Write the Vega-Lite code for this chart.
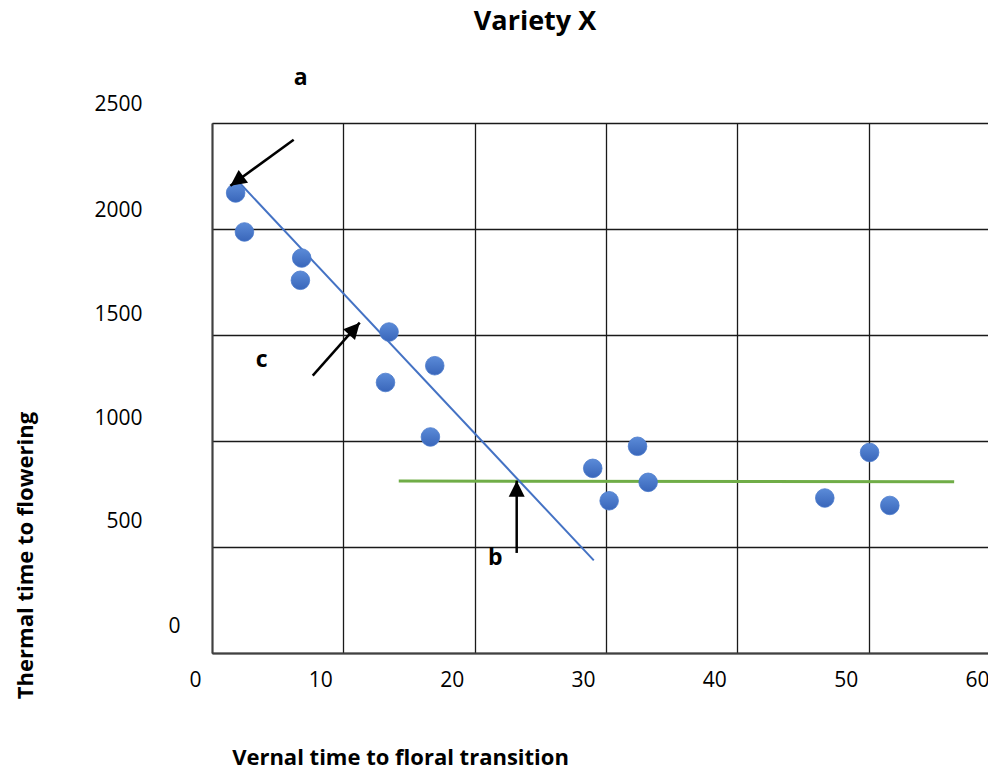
{
  "$schema": "https://vega.github.io/schema/vega-lite/v6.json",
  "autosize": {"type": "none"},
  "width": 788,
  "height": 530,
  "padding": {"left": 212, "top": 123, "right": 0, "bottom": 116},
  "background": "white",
  "title": {
    "text": "Variety X",
    "font": "Open Sans",
    "fontSize": 27,
    "fontWeight": "bold",
    "color": "#000",
    "anchor": "middle",
    "dx": -71,
    "dy": -27,
    "frame": "group"
  },
  "config": {
    "view": {"stroke": null},
    "font": "Open Sans"
  },
  "datasets": {
    "obs": [
      {"vernal": 1.8, "thermal": 2170},
      {"vernal": 2.47, "thermal": 1986},
      {"vernal": 6.83, "thermal": 1863},
      {"vernal": 6.73, "thermal": 1758},
      {"vernal": 13.48, "thermal": 1514},
      {"vernal": 16.96, "thermal": 1355},
      {"vernal": 13.21, "thermal": 1276},
      {"vernal": 16.63, "thermal": 1019},
      {"vernal": 28.99, "thermal": 871},
      {"vernal": 32.4, "thermal": 975},
      {"vernal": 33.21, "thermal": 805},
      {"vernal": 30.24, "thermal": 718},
      {"vernal": 50.07, "thermal": 946},
      {"vernal": 46.66, "thermal": 731},
      {"vernal": 51.61, "thermal": 696}
    ],
    "fit": [
      {"vernal": 2.11, "thermal": 2217},
      {"vernal": 29.07, "thermal": 437}
    ],
    "plateau": [
      {"vernal": 14.22, "thermal": 811},
      {"vernal": 56.51, "thermal": 808}
    ],
    "arrows": [
      {"label": "a", "x": 6.22, "y": 2421, "x2": 1.4, "y2": 2204},
      {"label": "b", "x": 23.2, "y": 472, "x2": 23.2, "y2": 813},
      {"label": "c", "x": 7.67, "y": 1308, "x2": 11.25, "y2": 1558}
    ],
    "labels": [
      {"label": "a", "x": 6.76, "y": 2714},
      {"label": "b", "x": 21.57, "y": 450},
      {"label": "c", "x": 3.79, "y": 1383}
    ]
  },
  "encoding": {
    "x": {
      "type": "quantitative",
      "scale": {"domain": [0, 60], "nice": false, "zero": false},
      "axis": {
        "values": [0, 10, 20, 30, 40, 50, 60],
        "grid": true,
        "gridColor": "#1a1a1a",
        "gridWidth": 1.3,
        "domainColor": "#404040",
        "domainWidth": 2,
        "ticks": false,
        "tickSize": 0,
        "labelFont": "Open Sans",
        "labelFontSize": 21,
        "labelColor": "#000",
        "labelAlign": "right",
        "labelOffset": -11,
        "labelBaseline": "middle",
        "labelPadding": 27,
        "labelFlush": false,
        "labelOverlap": false,
        "labelBound": false,
        "format": "d",
        "title": "Vernal time to floral transition",
        "titleFont": "Open Sans",
        "titleFontSize": 22,
        "titleFontWeight": "bold",
        "titleColor": "#000",
        "titleX": 188,
        "titleY": 104,
        "titleAlign": "center",
        "titleBaseline": "middle"
      }
    },
    "y": {
      "type": "quantitative",
      "scale": {"domain": [0, 2500], "nice": false},
      "axis": {
        "values": [0, 500, 1000, 1500, 2000, 2500],
        "format": "d",
        "grid": true,
        "gridColor": "#1a1a1a",
        "gridWidth": 1.3,
        "domainColor": "#404040",
        "domainWidth": 2,
        "ticks": false,
        "tickSize": 0,
        "labelFont": "Open Sans",
        "labelFontSize": 21,
        "labelColor": "#000",
        "labelFlush": false,
        "labelOverlap": false,
        "labelPadding": {"condition": {"test": "datum.value == 0", "value": 32}, "value": 70},
        "labelOffset": {
          "condition": [
            {"test": "datum.value == 0", "value": -26.5},
            {"test": "datum.value == 500", "value": -25.5},
            {"test": "datum.value == 1000", "value": -23},
            {"test": "datum.value == 1500", "value": -21}
          ],
          "value": -19
        },
        "title": "Thermal time to flowering",
        "titleFont": "Open Sans",
        "titleFontSize": 22,
        "titleFontWeight": "bold",
        "titleColor": "#000",
        "titleAngle": -90,
        "titleX": -187,
        "titleY": 432,
        "titleAlign": "center",
        "titleBaseline": "middle"
      }
    }
  },
  "layer": [
    {
      "data": {"name": "plateau"},
      "mark": {"type": "line", "color": "#70AD47", "strokeWidth": 3},
      "encoding": {"x": {"field": "vernal"}, "y": {"field": "thermal"}}
    },
    {
      "data": {"name": "fit"},
      "mark": {"type": "line", "color": "#4472C4", "strokeWidth": 2},
      "encoding": {"x": {"field": "vernal"}, "y": {"field": "thermal"}}
    },
    {
      "data": {"name": "obs"},
      "mark": {
        "type": "point",
        "shape": "circle",
        "filled": true,
        "size": 346,
        "opacity": 1,
        "fill": {
          "gradient": "linear",
          "x1": 0, "y1": 0, "x2": 0, "y2": 1,
          "stops": [
            {"offset": 0, "color": "#5b8bd8"},
            {"offset": 1, "color": "#3966ba"}
          ]
        },
        "stroke": "#4a7acb",
        "strokeWidth": 0.8
      },
      "encoding": {"x": {"field": "vernal"}, "y": {"field": "thermal"}}
    },
    {
      "data": {"name": "arrows"},
      "mark": {"type": "rule", "color": "#000", "strokeWidth": 2.5},
      "encoding": {
        "x": {"field": "x"},
        "y": {"field": "y"},
        "x2": {"field": "x2"},
        "y2": {"field": "y2"}
      }
    },
    {
      "data": {"name": "arrows"},
      "transform": [{"filter": "datum.label == 'a'"}],
      "mark": {"type": "point", "shape": "M0,0L-1,2L1,2Z", "filled": true, "size": 256, "color": "#000", "opacity": 1, "angle": 234},
      "encoding": {"x": {"field": "x2"}, "y": {"field": "y2"}}
    },
    {
      "data": {"name": "arrows"},
      "transform": [{"filter": "datum.label == 'b'"}],
      "mark": {"type": "point", "shape": "M0,0L-1,2L1,2Z", "filled": true, "size": 256, "color": "#000", "opacity": 1, "angle": 0},
      "encoding": {"x": {"field": "x2"}, "y": {"field": "y2"}}
    },
    {
      "data": {"name": "arrows"},
      "transform": [{"filter": "datum.label == 'c'"}],
      "mark": {"type": "point", "shape": "M0,0L-1,2L1,2Z", "filled": true, "size": 256, "color": "#000", "opacity": 1, "angle": 42},
      "encoding": {"x": {"field": "x2"}, "y": {"field": "y2"}}
    },
    {
      "data": {"name": "labels"},
      "mark": {
        "type": "text",
        "font": "Open Sans",
        "fontSize": 23,
        "fontWeight": "bold",
        "color": "#000",
        "align": "center",
        "baseline": "middle"
      },
      "encoding": {
        "x": {"field": "x"},
        "y": {"field": "y"},
        "text": {"field": "label"}
      }
    }
  ]
}
